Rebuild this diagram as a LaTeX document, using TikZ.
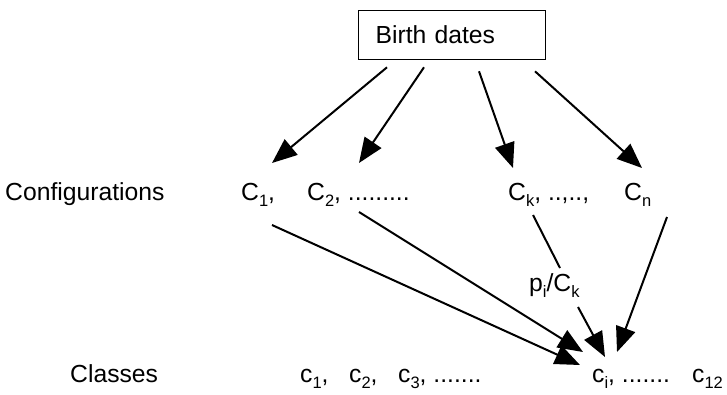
\documentclass[tikz,border=0pt]{standalone}
\usepackage{fontspec}
\setmainfont{Liberation Sans}
\usetikzlibrary{arrows.meta,calc}
% lowered, smaller index
\newcommand\lowsub[1]{\raisebox{-0.25em}{\fontsize{16.5}{16.5}\selectfont #1}}

\begin{document}
\begin{tikzpicture}[x=1pt,y=-1pt,
  txt/.style={inner sep=0pt, anchor=base west, font=\fontsize{24.7}{28}\selectfont},
  link/.style={line width=2pt, -{Triangle[length=25pt,width=20pt]}},
  plain/.style={line width=2pt}]
\useasboundingbox (0,0) rectangle (727,394);

% source box
\node[draw, line width=1.3pt, anchor=north west, minimum width=187pt,
      minimum height=49pt, inner xsep=17pt, inner ysep=0pt, text width=153pt,
      align=left, font=\fontsize{24.7}{28}\selectfont] (box) at (358,10) {Birth dates};

% row captions
\node[txt] (conf) at (5,200) {Configurations};
\node[txt] (cls) at (70,382) {Classes};

% configurations
\node[txt] (C1) at (241,200) {C\lowsub{1},};
\node[txt] (C2) at (307,200) {C\lowsub{2}, .........};
\node[txt] (Ck) at (508,200) {C\lowsub{k}, ..,..,};
\node[txt] (Cn) at (624,200) {C\lowsub{n}};

% classes
\node[txt] (c1) at (300,382) {c\lowsub{1},};
\node[txt] (c2) at (349,382) {c\lowsub{2},};
\node[txt] (c3) at (398,382) {c\lowsub{3}, .......};
\node[txt] (ci) at (592,382) {c\lowsub{i}, .......};
\node[txt] (c12) at (692,382) {c\lowsub{12}};

% conditional probability label
\node[txt] (pc) at (529,291) {p\lowsub{i}/C\lowsub{k}};
\coordinate (p1) at ($(pc.base west)+(31,-23)$);
\coordinate (p2) at ($(pc.base west)+(49,16)$);

% birth dates -> configurations
\draw[link] ($(box.south west)+(29,7)$)  -- ($(C1.base west)+(31,-37)$);
\draw[link] ($(box.south west)+(66,7)$)  -- ($(C2.base west)+(52,-37)$);
\draw[link] ($(box.south west)+(121,11)$) -- ($(Ck.base west)+(5,-32)$);
\draw[link] ($(box.south west)+(177,11)$) -- ($(Cn.base west)+(18,-32)$);

% configurations -> class
\draw[link] ($(C1.base west)+(31,25)$) -- ($(ci.base west)+(-12,-17)$);
\draw[link] ($(C2.base west)+(52,12)$) -- ($(ci.base west)+(-9,-30)$);
\draw[plain] ($(Ck.base west)+(25,15)$) -- (p1);
\draw[link] (p2) -- ($(ci.base west)+(13,-25)$);
\draw[link] ($(Cn.base west)+(43,17)$) -- ($(ci.base west)+(25,-30)$);
\end{tikzpicture}
\end{document}
